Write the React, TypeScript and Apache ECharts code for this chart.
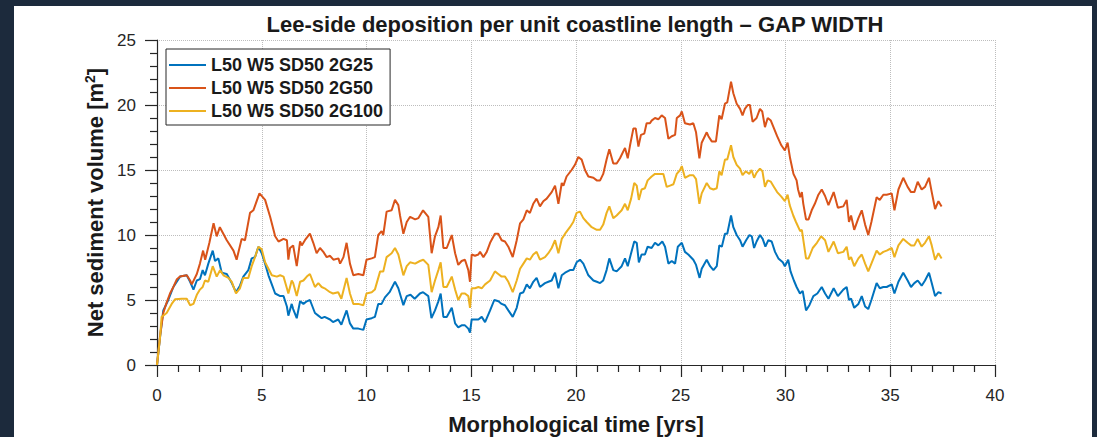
import React, { useEffect, useRef } from "react";
import * as echarts from "echarts";

const FONT = '"Liberation Sans", Arial, Helvetica, sans-serif';

const chartTitle = "Lee-side deposition per unit coastline length – GAP WIDTH";
const xAxisTitle = "Morphological time [yrs]";
const seriesNames = ["L50 W5 SD50 2G25", "L50 W5 SD50 2G50", "L50 W5 SD50 2G100"];
const seriesColors = ["#0072BD", "#D95319", "#EDB120"];

// [time (yrs), volume (m2)]
const g25: [number, number][] = [
  [0, 0], [0.15, 2.2], [0.3, 4.2], [0.54, 5.0], [0.78, 6.0], [1.1, 6.8], [1.42, 6.9], [1.58, 6.4], [1.74, 5.8], [1.9, 6.5],
  [2.05, 6.6], [2.18, 7.3], [2.29, 6.9], [2.45, 7.8], [2.66, 8.8], [2.77, 8.0], [2.93, 8.2], [3.09, 7.1], [3.33, 7.0], [3.57, 6.3],
  [3.77, 5.6], [3.96, 6.1], [4.12, 6.8], [4.36, 7.3], [4.52, 8.2], [4.68, 8.3], [4.84, 9.1], [5.0, 8.6], [5.16, 7.8], [5.32, 6.9],
  [5.48, 6.2], [5.64, 5.5], [5.88, 5.3], [6.04, 5.3], [6.2, 4.5], [6.27, 3.8], [6.43, 4.7], [6.5, 4.3], [6.67, 3.6], [6.83, 4.9],
  [6.99, 4.7], [7.15, 4.9], [7.3, 5.0], [7.54, 4.0], [7.7, 3.8], [7.86, 3.6], [8.0, 3.7], [8.26, 3.5], [8.4, 3.3], [8.65, 3.5],
  [8.8, 3.1], [9.05, 4.2], [9.21, 3.2], [9.37, 2.8], [9.61, 2.8], [9.85, 2.7], [10.0, 3.5], [10.25, 3.6], [10.4, 3.7], [10.56, 4.7],
  [10.72, 4.7], [10.88, 5.2], [11.1, 5.6], [11.36, 6.4], [11.52, 5.9], [11.76, 4.6], [11.92, 5.3], [12.1, 5.4], [12.3, 5.1], [12.55, 5.5],
  [12.7, 5.6], [12.95, 5.3], [13.1, 3.6], [13.27, 4.2], [13.43, 4.9], [13.54, 5.5], [13.67, 3.7], [13.83, 3.7], [14.07, 4.4], [14.23, 3.2],
  [14.38, 2.9], [14.54, 3.05], [14.7, 3.05], [14.86, 2.8], [14.94, 2.5], [15.02, 3.5], [15.18, 3.5], [15.34, 3.5], [15.5, 3.7], [15.66, 3.3],
  [15.9, 4.2], [16.1, 5.0], [16.3, 4.9], [16.45, 4.7], [16.61, 4.6], [16.77, 4.2], [16.98, 3.7], [17.17, 4.4], [17.33, 5.5], [17.49, 5.6],
  [17.65, 6.2], [17.8, 5.9], [17.96, 6.4], [18.12, 6.7], [18.28, 6.0], [18.52, 6.3], [18.68, 6.4], [18.84, 6.5], [19.0, 7.1], [19.16, 5.9],
  [19.32, 6.9], [19.48, 7.1], [19.71, 7.3], [19.87, 7.3], [20.03, 7.9], [20.19, 8.1], [20.35, 7.8], [20.59, 6.9], [20.83, 6.5], [20.99, 6.4],
  [21.15, 6.3], [21.3, 6.5], [21.46, 7.3], [21.59, 8.2], [21.78, 7.3], [21.94, 7.2], [22.18, 7.6], [22.34, 8.2], [22.47, 7.6], [22.63, 8.6],
  [22.78, 9.5], [22.9, 9.4], [23.0, 7.9], [23.13, 8.5], [23.29, 8.5], [23.42, 9.1], [23.61, 9.0], [23.77, 9.4], [23.93, 9.2], [24.12, 9.5],
  [24.25, 9.1], [24.41, 7.8], [24.57, 8.0], [24.73, 7.8], [24.86, 9.1], [25.05, 9.4], [25.2, 8.7], [25.36, 8.5], [25.6, 8.1], [25.73, 7.7],
  [25.9, 6.7], [26.0, 7.4], [26.24, 8.1], [26.4, 7.6], [26.56, 7.3], [26.72, 7.6], [26.84, 9.2], [26.96, 9.1], [27.11, 10.1], [27.22, 10.1],
  [27.4, 11.5], [27.51, 10.6], [27.67, 10.0], [27.83, 9.6], [27.95, 9.1], [28.12, 9.6], [28.28, 10.0], [28.39, 9.9], [28.5, 9.0], [28.62, 9.5],
  [28.78, 10.0], [28.91, 9.7], [29.04, 9.1], [29.18, 9.6], [29.34, 9.5], [29.5, 8.7], [29.66, 8.2], [29.87, 7.9], [29.97, 7.6], [30.13, 8.1],
  [30.24, 7.2], [30.4, 6.5], [30.53, 6.0], [30.69, 5.5], [30.82, 5.7], [30.98, 4.2], [31.14, 4.6], [31.33, 5.3], [31.52, 5.5], [31.73, 6.0],
  [31.89, 5.5], [32.05, 5.1], [32.3, 5.9], [32.5, 5.3], [32.76, 5.8], [32.92, 6.0], [33.03, 5.0], [33.13, 5.1], [33.28, 4.4], [33.48, 4.7],
  [33.64, 5.3], [33.8, 4.5], [33.95, 4.3], [34.1, 5.0], [34.35, 6.3], [34.5, 5.9], [34.67, 6.0], [34.83, 6.0], [35.07, 6.2], [35.2, 5.5],
  [35.39, 6.4], [35.62, 7.1], [35.83, 6.5], [35.99, 6.0], [36.15, 6.3], [36.31, 6.5], [36.5, 6.1], [36.66, 6.5], [36.85, 7.1], [36.98, 6.3],
  [37.14, 5.3], [37.3, 5.6], [37.45, 5.5],
];

const g50: [number, number][] = [
  [0, 0], [0.15, 2.3], [0.3, 4.0], [0.46, 4.8], [0.62, 5.5], [0.78, 6.0], [0.95, 6.6], [1.1, 6.8], [1.42, 6.9], [1.58, 6.5],
  [1.66, 6.2], [1.9, 7.0], [2.05, 7.8], [2.2, 8.8], [2.3, 8.1], [2.5, 9.4], [2.7, 10.9], [2.85, 9.9], [3.0, 10.6], [3.33, 9.6],
  [3.65, 8.8], [3.8, 8.1], [4.04, 9.7], [4.2, 9.6], [4.44, 11.7], [4.6, 11.9], [4.89, 13.2], [5.16, 12.7], [5.4, 11.4], [5.64, 9.9],
  [5.8, 9.5], [6.04, 9.7], [6.2, 9.6], [6.27, 8.1], [6.35, 9.0], [6.5, 9.2], [6.67, 7.6], [6.83, 9.5], [6.91, 9.2], [7.06, 9.6],
  [7.3, 10.1], [7.46, 9.4], [7.62, 8.6], [7.78, 9.0], [7.94, 8.7], [8.1, 8.3], [8.26, 8.4], [8.42, 8.1], [8.66, 8.2], [8.74, 7.8],
  [8.9, 8.3], [9.05, 9.4], [9.21, 7.8], [9.37, 6.9], [9.61, 7.0], [9.85, 6.9], [10.0, 8.1], [10.25, 8.2], [10.4, 8.3], [10.56, 10.0],
  [10.72, 10.3], [10.8, 10.0], [10.96, 11.8], [11.2, 11.9], [11.36, 12.7], [11.52, 12.3], [11.6, 11.5], [11.76, 10.1], [11.92, 11.0], [12.08, 11.4],
  [12.32, 11.2], [12.48, 11.3], [12.7, 11.9], [12.95, 11.4], [13.11, 8.6], [13.27, 9.9], [13.43, 10.6], [13.54, 11.5], [13.67, 9.0], [13.83, 9.0],
  [14.07, 10.0], [14.23, 8.6], [14.38, 7.7], [14.54, 8.0], [14.7, 8.1], [14.86, 7.3], [14.94, 6.4], [15.02, 8.5], [15.18, 8.4], [15.34, 8.5],
  [15.42, 8.7], [15.58, 8.3], [15.74, 8.7], [15.9, 9.4], [16.13, 10.1], [16.29, 10.1], [16.45, 9.6], [16.61, 9.5], [16.77, 9.1], [16.98, 8.3],
  [17.17, 9.6], [17.33, 10.9], [17.49, 11.2], [17.65, 11.9], [17.8, 11.7], [17.96, 12.4], [18.12, 12.8], [18.28, 12.2], [18.44, 12.6], [18.6, 12.8],
  [18.84, 13.3], [19.0, 13.8], [19.16, 12.4], [19.32, 14.0], [19.4, 13.8], [19.55, 14.5], [19.79, 15.0], [19.95, 15.4], [20.11, 16.0], [20.27, 15.8],
  [20.43, 15.0], [20.59, 14.5], [20.83, 14.4], [20.99, 14.2], [21.15, 14.2], [21.3, 14.7], [21.46, 15.8], [21.59, 16.6], [21.78, 15.5], [21.94, 15.5],
  [22.1, 15.9], [22.34, 16.7], [22.47, 15.9], [22.58, 16.9], [22.74, 18.2], [22.85, 18.2], [22.98, 16.8], [23.1, 17.7], [23.26, 17.8], [23.37, 18.6],
  [23.53, 18.6], [23.61, 18.8], [23.77, 19.0], [23.93, 18.9], [24.09, 19.2], [24.25, 19.0], [24.41, 17.4], [24.57, 17.6], [24.73, 17.7], [24.81, 19.0],
  [24.97, 19.2], [25.05, 19.5], [25.2, 18.6], [25.44, 18.5], [25.6, 18.6], [25.73, 17.9], [25.89, 15.9], [26.0, 17.1], [26.24, 17.9], [26.32, 17.6],
  [26.48, 17.2], [26.68, 17.2], [26.84, 19.2], [26.95, 18.9], [27.11, 20.1], [27.22, 20.2], [27.4, 21.8], [27.51, 20.9], [27.67, 20.1], [27.83, 19.7],
  [27.95, 19.2], [28.06, 19.7], [28.2, 20.0], [28.3, 20.0], [28.43, 18.7], [28.62, 19.0], [28.78, 19.7], [28.89, 19.5], [29.02, 18.3], [29.15, 19.0],
  [29.3, 18.8], [29.45, 18.2], [29.6, 17.6], [29.8, 16.9], [29.97, 16.5], [30.1, 17.1], [30.22, 15.9], [30.38, 14.7], [30.53, 14.2], [30.6, 13.5],
  [30.7, 12.9], [30.78, 13.3], [30.85, 12.4], [30.98, 11.2], [31.1, 11.2], [31.25, 11.9], [31.4, 12.4], [31.57, 13.1], [31.73, 13.5], [31.89, 13.0],
  [32.05, 12.3], [32.3, 13.3], [32.5, 12.1], [32.76, 12.2], [32.92, 12.7], [33.03, 11.0], [33.13, 11.5], [33.28, 10.4], [33.48, 11.3], [33.64, 11.9],
  [33.8, 10.8], [33.95, 10.0], [34.1, 11.0], [34.35, 12.9], [34.5, 12.7], [34.67, 13.1], [34.83, 13.1], [35.07, 13.2], [35.2, 11.9], [35.39, 13.5],
  [35.62, 14.4], [35.83, 13.7], [35.99, 13.3], [36.15, 13.3], [36.31, 14.1], [36.5, 13.5], [36.66, 13.7], [36.85, 14.4], [36.98, 13.3], [37.14, 12.0],
  [37.3, 12.6], [37.45, 12.2],
];

const g100: [number, number][] = [
  [0, 0], [0.15, 2.2], [0.22, 3.7], [0.46, 4.0], [0.7, 4.7], [0.86, 5.05], [1.18, 5.1], [1.42, 5.1], [1.58, 4.6], [1.74, 4.7],
  [1.9, 5.4], [2.05, 5.8], [2.18, 6.0], [2.29, 6.5], [2.45, 6.4], [2.66, 7.6], [2.85, 6.8], [3.01, 7.3], [3.17, 6.9], [3.41, 6.7],
  [3.57, 6.4], [3.77, 5.5], [3.96, 5.9], [4.12, 6.7], [4.36, 6.7], [4.52, 7.6], [4.68, 8.3], [4.84, 9.1], [5.0, 8.9], [5.16, 7.9],
  [5.32, 7.4], [5.48, 6.9], [5.72, 6.8], [5.88, 6.9], [6.04, 6.8], [6.2, 5.9], [6.27, 5.5], [6.43, 6.5], [6.5, 6.3], [6.67, 5.3],
  [6.83, 6.4], [6.99, 6.5], [7.15, 6.8], [7.3, 7.0], [7.54, 6.0], [7.7, 6.3], [7.86, 6.0], [8.0, 5.9], [8.26, 5.6], [8.4, 5.5],
  [8.65, 5.6], [8.8, 5.1], [9.05, 6.7], [9.21, 5.5], [9.37, 4.7], [9.61, 4.7], [9.85, 4.6], [10.0, 5.5], [10.25, 5.6], [10.4, 5.8],
  [10.65, 7.2], [10.8, 7.2], [10.96, 8.3], [11.2, 8.6], [11.36, 9.0], [11.52, 8.5], [11.76, 6.9], [11.92, 7.6], [12.08, 7.9], [12.32, 7.8],
  [12.55, 8.0], [12.71, 8.1], [12.95, 7.7], [13.11, 5.6], [13.27, 6.5], [13.43, 7.3], [13.54, 7.9], [13.67, 6.0], [13.83, 6.0], [14.07, 6.8],
  [14.23, 5.8], [14.38, 5.0], [14.54, 5.5], [14.7, 5.5], [14.86, 5.3], [14.94, 4.4], [15.02, 5.9], [15.18, 5.9], [15.34, 6.0], [15.5, 5.9],
  [15.66, 6.2], [15.9, 6.5], [16.13, 7.2], [16.29, 7.0], [16.45, 6.8], [16.61, 6.8], [16.77, 6.4], [16.98, 5.6], [17.17, 6.5], [17.33, 7.4],
  [17.49, 7.8], [17.65, 8.2], [17.8, 8.1], [17.96, 8.5], [18.12, 8.7], [18.28, 8.1], [18.52, 8.3], [18.68, 8.6], [18.84, 9.0], [19.0, 9.6],
  [19.16, 8.6], [19.32, 9.7], [19.48, 10.1], [19.71, 10.6], [19.87, 11.0], [20.03, 11.7], [20.19, 11.8], [20.35, 11.3], [20.51, 11.0], [20.75, 10.6],
  [20.99, 10.4], [21.15, 10.4], [21.3, 10.8], [21.46, 11.7], [21.59, 12.2], [21.78, 11.3], [21.94, 11.5], [22.18, 11.9], [22.34, 12.4], [22.47, 11.9],
  [22.63, 12.8], [22.78, 14.0], [22.9, 13.8], [23.0, 12.7], [23.13, 13.5], [23.29, 13.6], [23.42, 14.2], [23.61, 14.5], [23.77, 14.7], [24.0, 14.7],
  [24.17, 14.7], [24.33, 13.7], [24.49, 13.8], [24.65, 13.9], [24.81, 14.7], [24.97, 15.0], [25.05, 15.3], [25.2, 14.4], [25.44, 14.6], [25.6, 14.6],
  [25.73, 14.3], [25.89, 12.4], [26.0, 13.2], [26.24, 14.0], [26.4, 13.6], [26.56, 13.5], [26.72, 13.6], [26.84, 14.9], [26.95, 14.6], [27.11, 15.8],
  [27.22, 15.8], [27.4, 16.9], [27.51, 16.0], [27.67, 15.4], [27.83, 15.1], [27.95, 14.6], [28.1, 14.9], [28.27, 14.7], [28.38, 15.0], [28.5, 14.4],
  [28.62, 14.8], [28.78, 15.1], [28.9, 14.9], [29.02, 13.7], [29.15, 14.2], [29.3, 14.1], [29.45, 13.7], [29.6, 13.3], [29.8, 12.95], [29.97, 12.6],
  [30.1, 13.1], [30.2, 12.3], [30.37, 11.5], [30.5, 11.0], [30.7, 10.3], [30.78, 10.4], [30.98, 8.2], [31.1, 8.2], [31.3, 9.0], [31.5, 9.4],
  [31.7, 9.9], [31.89, 9.6], [32.05, 8.7], [32.3, 9.5], [32.5, 8.6], [32.76, 8.7], [32.92, 9.1], [33.03, 8.1], [33.13, 8.3], [33.28, 7.6],
  [33.48, 8.2], [33.64, 8.5], [33.8, 7.8], [33.95, 7.2], [34.1, 7.8], [34.35, 8.8], [34.5, 8.5], [34.67, 8.7], [34.83, 8.8], [35.07, 9.0],
  [35.2, 8.3], [35.39, 9.2], [35.62, 9.7], [35.83, 9.4], [35.99, 9.2], [36.15, 9.2], [36.31, 9.7], [36.5, 9.1], [36.66, 9.4], [36.85, 9.9],
  [36.98, 9.2], [37.14, 8.1], [37.3, 8.6], [37.45, 8.2],
];

const seriesData = [g25, g50, g100];

const AXIS_COLOR = "#262626";

export default function App() {
  const ref = useRef<HTMLDivElement>(null);

  useEffect(() => {
    if (!ref.current) return;
    const chart = echarts.init(ref.current, undefined, { renderer: "svg" });
    const option: any = {
      animation: false,
      backgroundColor: "transparent",
      title: {
        text: chartTitle,
        left: 575,
        top: 13,
        padding: 0,
        textAlign: "center",
        textStyle: { fontFamily: FONT, fontSize: 22, fontWeight: "bold", color: "#1a1a1a", lineHeight: 22 },
      },
      legend: {
        orient: "vertical",
        left: 166,
        top: 49,
        padding: [7, 7, 5, 3],
        icon: "rect",
        itemWidth: 37,
        itemHeight: 2,
        itemGap: 5,
        backgroundColor: "#ffffff",
        borderColor: AXIS_COLOR,
        borderWidth: 1,
        borderRadius: 0,
        textStyle: { fontFamily: FONT, fontSize: 18, fontWeight: "bold", color: "#1a1a1a", lineHeight: 18 },
        data: seriesNames,
      },
      grid: { left: 157, top: 40, right: 102, bottom: 72, containLabel: false, outerBoundsMode: "none" },
      xAxis: {
        type: "value",
        min: 0,
        max: 40,
        interval: 5,
        name: xAxisTitle,
        nameLocation: "middle",
        nameGap: 48,
        nameTextStyle: { fontFamily: FONT, fontSize: 22, fontWeight: "bold", color: "#1a1a1a", lineHeight: 22 },
        axisLine: { show: true, onZero: false, lineStyle: { color: AXIS_COLOR, width: 1.2 } },
        axisTick: { show: true, inside: false, length: 12, lineStyle: { color: AXIS_COLOR, width: 1.2 } },
        minorTick: { show: true, splitNumber: 5, length: 7, lineStyle: { color: AXIS_COLOR, width: 1.2 } },
        axisLabel: { fontFamily: FONT, fontSize: 17, color: AXIS_COLOR, margin: 22 },
        splitLine: { show: true, lineStyle: { color: "#bdbdbd", type: "dotted", width: 1 } },
      },
      yAxis: {
        type: "value",
        min: 0,
        max: 25,
        interval: 5,
        name: "{a|Net sediment volume [m}{s|2}{a|]}",
        nameLocation: "middle",
        nameGap: 48,
        nameTextStyle: {
          fontFamily: FONT,
          fontSize: 22,
          fontWeight: "bold",
          color: "#1a1a1a",
          rich: {
            a: { fontFamily: FONT, fontSize: 22, fontWeight: "bold", color: "#1a1a1a", lineHeight: 24 },
            s: { fontFamily: FONT, fontSize: 14, fontWeight: "bold", color: "#1a1a1a", verticalAlign: "top", lineHeight: 14 },
          },
        },
        axisLine: { show: true, onZero: false, lineStyle: { color: AXIS_COLOR, width: 1.2 } },
        axisTick: { show: true, inside: false, length: 12, lineStyle: { color: AXIS_COLOR, width: 1.2 } },
        minorTick: { show: true, splitNumber: 5, length: 7, lineStyle: { color: AXIS_COLOR, width: 1.2 } },
        axisLabel: { fontFamily: FONT, fontSize: 17, color: AXIS_COLOR, margin: 21 },
        splitLine: { show: true, lineStyle: { color: "#bdbdbd", type: "dotted", width: 1 } },
      },
      series: seriesNames.map((name, i) => ({
        name,
        type: "line",
        data: seriesData[i],
        symbol: "none",
        showSymbol: false,
        lineStyle: { color: seriesColors[i], width: 2 },
        itemStyle: { color: seriesColors[i] },
        z: 3 + i,
      })),
    };
    chart.setOption(option);
    return () => chart.dispose();
  }, []);

  return (
    <div style={{ position: "fixed", left: 0, top: 0, width: 1097, height: 437, background: "#1c2a3c", overflow: "hidden" }}>
      <div style={{ position: "absolute", left: 14, top: 6, width: 1078, height: 431, background: "#ffffff" }} />
      <div ref={ref} style={{ position: "absolute", left: 0, top: 0, width: 1097, height: 437 }} />
    </div>
  );
}
